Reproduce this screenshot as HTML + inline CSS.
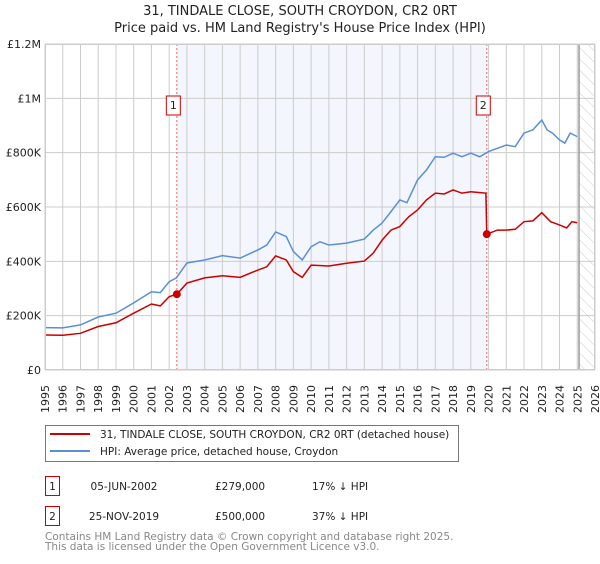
<!DOCTYPE html>
<html><head><meta charset="utf-8"><style>
body{margin:0;background:#fff;font-family:"DejaVu Sans","Liberation Sans",sans-serif;}
svg text{font-family:"DejaVu Sans","Liberation Sans",sans-serif;}
</style></head><body>
<svg id="c" width="600" height="560" xmlns="http://www.w3.org/2000/svg">
<defs><pattern id="hatch" width="8" height="8" patternUnits="userSpaceOnUse" patternTransform="rotate(-45)"><line x1="0" y1="0" x2="0" y2="8" stroke="#ccc" stroke-width="1"/></pattern></defs>
<text x="300" y="15" text-anchor="middle" font-size="13" fill="#222">31, TINDALE CLOSE, SOUTH CROYDON, CR2 0RT</text>
<text x="300" y="32" text-anchor="middle" font-size="13" fill="#222">Price paid vs. HM Land Registry's House Price Index (HPI)</text>
<g id="plot"></g>
<g>
<rect x="45.5" y="425.5" width="413" height="36" fill="#fff" stroke="#777"/>
<line x1="50" y1="434" x2="90" y2="434" stroke="#cc0000" stroke-width="2"/>
<text x="100" y="438" font-size="10.5" fill="#222">31, TINDALE CLOSE, SOUTH CROYDON, CR2 0RT (detached house)</text>
<line x1="50" y1="451" x2="90" y2="451" stroke="#5b8fd4" stroke-width="2"/>
<text x="100" y="455" font-size="10.5" fill="#222">HPI: Average price, detached house, Croydon</text>
</g>
<g font-size="10.5" fill="#222">
<rect x="45.5" y="476.5" width="14" height="19" fill="#fff" stroke="#cc0000"/>
<text x="52.5" y="490" text-anchor="middle">1</text>
<text x="124" y="490" text-anchor="middle">05-JUN-2002</text>
<text x="215" y="490">£279,000</text>
<text x="312" y="490">17% ↓ HPI</text>
<rect x="45.5" y="506.5" width="14" height="19" fill="#fff" stroke="#cc0000"/>
<text x="52.5" y="520" text-anchor="middle">2</text>
<text x="124" y="520" text-anchor="middle">25-NOV-2019</text>
<text x="215" y="520">£500,000</text>
<text x="312" y="520">37% ↓ HPI</text>
</g>
<text x="45" y="540" font-size="10.5" fill="#888">Contains HM Land Registry data © Crown copyright and database right 2025.</text>
<text x="45" y="550" font-size="10.5" fill="#888">This data is licensed under the Open Government Licence v3.0.</text>
</svg>
<script>
const hpiYears=[1995,1996,1997,1998,1999,2000,2001,2001.5,2002,2002.4,2003,2004,2005,2006,2007,2007.5,2008,2008.6,2009,2009.5,2010,2010.5,2011,2012,2013,2013.5,2014,2014.5,2015,2015.4,2016,2016.5,2017,2017.5,2018,2018.5,2019,2019.5,2020,2020.5,2021,2021.5,2022,2022.5,2023,2023.3,2023.6,2024,2024.3,2024.6,2025];
const hpiValues=[156,155,166,195,209,247,288,285,325,339,394,405,421,412,442,460,508,491,436,405,454,472,460,467,482,515,541,583,626,616,700,736,785,783,798,785,798,785,804,816,828,822,872,884,920,884,872,847,835,872,859];
const priceYears=[1995,1996,1997,1998,1999,2000,2001,2001.5,2002,2002.43,2003,2004,2005,2006,2007,2007.5,2008,2008.6,2009,2009.5,2010,2011,2012,2013,2013.5,2014,2014.5,2015,2015.5,2016,2016.5,2017,2017.5,2018,2018.5,2019,2019.85,2019.9,2020.5,2021,2021.5,2022,2022.5,2023,2023.5,2024,2024.4,2024.7,2025];
const priceValues=[129,128,135,160,174,209,243,236,270,279,320,339,347,341,368,380,420,405,362,341,386,383,393,401,430,478,515,528,564,589,626,651,648,663,651,656,651,500,515,515,518,546,549,579,546,534,523,546,542];
const saleYears=[2002.43,2019.9];
const saleValues=[279,500];
const saleLabels=["1","2"];
const yTickValues=[0,200,400,600,800,1000,1200];
const yTickLabels=["£0","£200K","£400K","£600K","£800K","£1M","£1.2M"];
const xTickYears=[1995,1996,1997,1998,1999,2000,2001,2002,2003,2004,2005,2006,2007,2008,2009,2010,2011,2012,2013,2014,2015,2016,2017,2018,2019,2020,2021,2022,2023,2024,2025,2026];
const dataEnd=2025.1;

const X0=45,X1=595,Y0=370,Y1=44;
const xs=y=>X0+(y-1995)/(2026-1995)*(X1-X0);
const ys=v=>Y0-v/1200*(Y0-Y1);
const NS="http://www.w3.org/2000/svg";
const g=document.getElementById('plot');
function mk(t,a){const e=document.createElementNS(NS,t);for(const k in a)e.setAttribute(k,a[k]);g.appendChild(e);return e;}
let e;
e=mk('rect',{x:xs(saleYears[0]),y:Y1,width:xs(saleYears[1])-xs(saleYears[0]),height:Y0-Y1,fill:'#f3f6fd'});


e=mk('rect',{x:xs(dataEnd),y:Y1,width:X1-xs(dataEnd),height:Y0-Y1,fill:'url(#hatch)'});


xTickYears.forEach(yr=>{
 e=mk('line',{x1:xs(yr),x2:xs(yr),y1:Y1,y2:Y0,stroke:'#ccc','stroke-width':1});
 
 
 e=mk('text',{transform:`translate(${xs(yr)+4},${Y0+43}) rotate(-90)`,'font-size':11,fill:'#222'});
 e.textContent=yr;
 
 
});
yTickValues.forEach((v,i)=>{
 e=mk('line',{x1:X0,x2:X1,y1:ys(v),y2:ys(v),stroke:'#ccc','stroke-width':1});
 
 
 e=mk('text',{x:X0-4,y:ys(v)+4,'text-anchor':'end','font-size':11,fill:'#222'});
 e.textContent=yTickLabels[i];
 
 
});
e=mk('line',{x1:xs(dataEnd),x2:xs(dataEnd),y1:Y1,y2:Y0,stroke:'#999','stroke-width':1.5});


saleYears.forEach((yr,i)=>{
 e=mk('line',{x1:xs(yr),x2:xs(yr),y1:Y1,y2:Y0,stroke:'#e66','stroke-width':1,'stroke-dasharray':'2,2'});
 
 
});
e=mk('polyline',{points:hpiYears.map((y,i)=>xs(y)+','+ys(hpiValues[i])).join(' '),fill:'none',stroke:'#5b8fd4','stroke-width':1.5});


e=mk('polyline',{points:priceYears.map((y,i)=>xs(y)+','+ys(priceValues[i])).join(' '),fill:'none',stroke:'#cc0000','stroke-width':1.5});


saleYears.forEach((yr,i)=>{
 e=mk('circle',{cx:xs(yr),cy:ys(saleValues[i]),r:4,fill:'#cc0000'});
 
 
 e=mk('rect',{x:xs(yr)-10.5,y:96,width:14,height:19,fill:'#fff',stroke:'#cc0000'});
 
 
 e=mk('text',{x:xs(yr)-3.5,y:109,'text-anchor':'middle','font-size':11,fill:'#222'});
 e.textContent=saleLabels[i];
 
 
});
e=mk('rect',{x:X0+0.5,y:Y1+0.5,width:X1-X0-1,height:Y0-Y1-1,fill:'none',stroke:'#ccc'});


</script>
</body></html>
